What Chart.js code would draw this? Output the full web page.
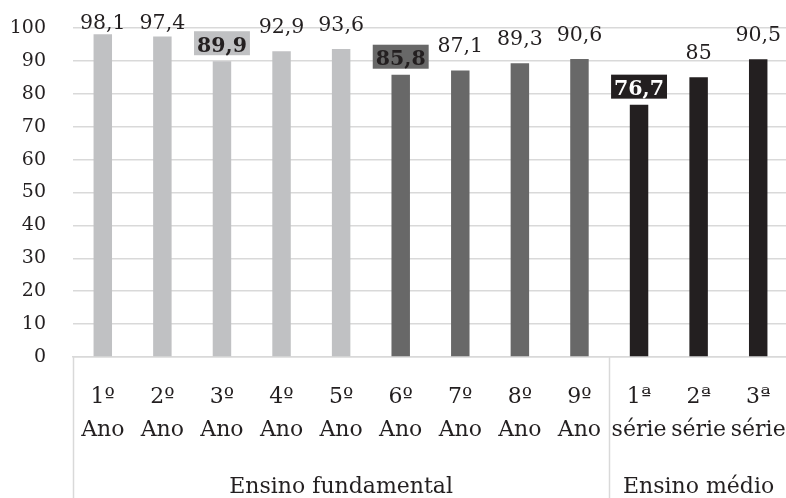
<!DOCTYPE html>
<html lang="pt-BR">
<head>
<meta charset="utf-8">
<script src="https://cdn.jsdelivr.net/npm/chart.js@4.4.1/dist/chart.umd.min.js"></script>
<style>
  html, body { margin: 0; padding: 0; background: #ffffff; overflow: hidden; }
  #quadro { width: 789px; height: 498px; position: relative; }
</style>
</head>
<body>
<div id="quadro"><canvas id="grafico"></canvas></div>
<script>
// Séries e rótulos
const series = ['1º', '2º', '3º', '4º', '5º', '6º', '7º', '8º', '9º', '1ª', '2ª', '3ª'];
const unidades = ['Ano', 'Ano', 'Ano', 'Ano', 'Ano', 'Ano', 'Ano', 'Ano', 'Ano', 'série', 'série', 'série'];
const etapas = ['Ensino fundamental', 'Ensino fundamental', 'Ensino fundamental', 'Ensino fundamental',
  'Ensino fundamental', 'Ensino fundamental', 'Ensino fundamental', 'Ensino fundamental',
  'Ensino fundamental', 'Ensino médio', 'Ensino médio', 'Ensino médio'];
const ciclos = ['iniciais', 'iniciais', 'iniciais', 'iniciais', 'iniciais',
  'finais', 'finais', 'finais', 'finais', 'medio', 'medio', 'medio'];
const valores = [98.1, 97.4, 89.9, 92.9, 93.6, 85.8, 87.1, 89.3, 90.6, 76.7, 85, 90.5];
const marcasY = [0, 10, 20, 30, 40, 50, 60, 70, 80, 90, 100];

// Cores por ciclo
const corCiclo = { iniciais: '#c0c1c3', finais: '#686868', medio: '#231f20' };
const textoDestaque = { iniciais: '#231f20', finais: '#231f20', medio: '#ffffff' };

const FONTE = '"DejaVu Serif", serif';
const CINZA_LINHA = '#d9d9d9';
const TAM_ROTULO = 20.5;
const ALTURA_ALGARISMO = 0.729 * TAM_ROTULO;

// Menor valor de cada ciclo recebe rótulo com fundo
const menores = new Set();
[...new Set(ciclos)].forEach(c => {
  let idx = -1;
  ciclos.forEach((cc, i) => { if (cc === c && (idx < 0 || valores[i] < valores[idx])) idx = i; });
  menores.add(idx);
});

const fmt = v => v.toLocaleString('pt-BR');

// Rótulos de valor acima das barras
const rotulosValor = {
  id: 'rotulosValor',
  afterDatasetsDraw(chart) {
    const ctx = chart.ctx;
    const meta = chart.getDatasetMeta(0);
    ctx.save();
    ctx.textAlign = 'center';
    ctx.textBaseline = 'alphabetic';
    meta.data.forEach((barra, i) => {
      const texto = fmt(valores[i]);
      if (menores.has(i)) {
        ctx.font = 'bold ' + TAM_ROTULO + 'px ' + FONTE;
        const w = ctx.measureText(texto).width + 6;
        const h = 24;
        const fundo = Math.max(barra.y - 6, 29 + 3.5);
        ctx.fillStyle = corCiclo[ciclos[i]];
        ctx.fillRect(barra.x - w / 2, fundo - h, w, h);
        ctx.fillStyle = textoDestaque[ciclos[i]];
        ctx.fillText(texto, barra.x, fundo - 3.5);
      } else {
        ctx.font = TAM_ROTULO + 'px ' + FONTE;
        const base = Math.max(barra.y - 18, 29);
        ctx.fillStyle = '#231f20';
        ctx.fillText(texto, barra.x, base);
      }
    });
    ctx.restore();
  }
};

// Nível de agrupamento do eixo de categorias
const eixoAgrupado = {
  id: 'eixoAgrupado',
  afterDraw(chart) {
    const ctx = chart.ctx;
    const x = chart.scales.x;
    const topo = chart.chartArea.bottom;
    const base = chart.height;
    const limites = [0];
    for (let i = 1; i < etapas.length; i++) if (etapas[i] !== etapas[i - 1]) limites.push(i);
    limites.push(etapas.length);
    ctx.save();
    ctx.strokeStyle = CINZA_LINHA;
    ctx.lineWidth = 1.5;
    limites.forEach(k => {
      const px = Math.round(x.getPixelForValue(k - 0.5)) + 0.5;
      ctx.beginPath();
      ctx.moveTo(px, topo);
      ctx.lineTo(px, base);
      ctx.stroke();
    });
    ctx.fillStyle = '#231f20';
    ctx.font = '22px ' + FONTE;
    ctx.textAlign = 'center';
    ctx.textBaseline = 'alphabetic';
    for (let g = 0; g < limites.length - 1; g++) {
      const a = x.getPixelForValue(limites[g] - 0.5);
      const b = x.getPixelForValue(limites[g + 1] - 0.5);
      ctx.fillText(etapas[limites[g]], (a + b) / 2, 493);
    }
    ctx.restore();
  }
};

new Chart(document.getElementById('grafico'), {
  type: 'bar',
  data: {
    labels: series.map((s, i) => [s, unidades[i]]),
    datasets: [{
      data: valores,
      backgroundColor: ciclos.map(c => corCiclo[c]),
      borderWidth: 0,
      barPercentage: 0.31,
      categoryPercentage: 1
    }]
  },
  options: {
    responsive: true,
    maintainAspectRatio: false,
    animation: false,
    layout: { padding: { top: 28, right: 1, left: 0, bottom: 0 } },
    plugins: { legend: { display: false }, tooltip: { enabled: false } },
    scales: {
      x: {
        grid: { display: false, drawTicks: false },
        border: { display: true, color: CINZA_LINHA, width: 1.5 },
        ticks: {
          color: '#231f20',
          font: { family: FONTE, size: 22, lineHeight: 33 / 22 },
          padding: 24,
          maxRotation: 0,
          autoSkip: false
        },
        afterFit(scale) {
          scale.height = 141;
          scale.paddingLeft = 0;
          scale.paddingRight = 0;
        }
      },
      y: {
        min: 0,
        max: 100,
        afterBuildTicks(scale) { scale.ticks = marcasY.map(v => ({ value: v })); },
        grid: { color: CINZA_LINHA, lineWidth: 1.5, drawTicks: false },
        border: { display: false },
        ticks: {
          color: '#231f20',
          font: { family: FONTE, size: 19 },
          padding: 27
        },
        afterFit(scale) {
          scale.width = 73;
          scale.paddingTop = 0;
          scale.paddingBottom = 0;
        }
      }
    }
  },
  plugins: [rotulosValor, eixoAgrupado]
});
</script>
</body>
</html>
